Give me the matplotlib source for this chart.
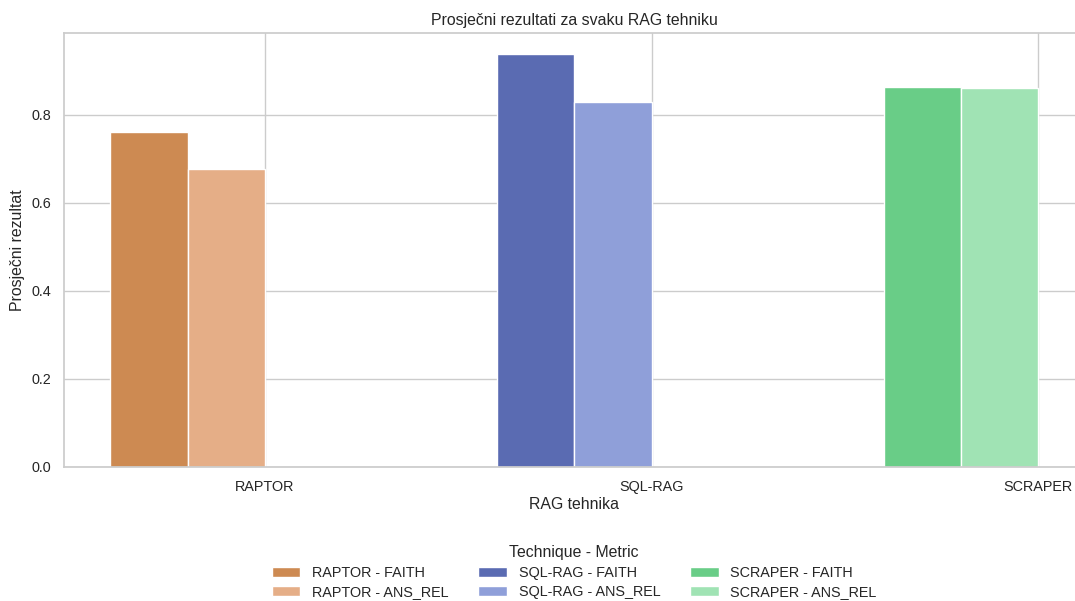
import numpy as np
import matplotlib.pyplot as plt
import seaborn as sns

sns.set_theme(style="whitegrid")
plt.rcParams['font.family'] = ['Liberation Sans', 'DejaVu Sans']

techniques = ["RAPTOR", "SQL-RAG", "SCRAPER"]
metrics = ["FAITH", "ANS_REL"]
faith = [0.761, 0.939, 0.864]
ans_rel = [0.677, 0.830, 0.861]
colors_faith = ["#cd8a52", "#5a6bb2", "#69cd87"]
colors_ans = ["#e5ae87", "#8f9fd9", "#a0e3b4"]

fig = plt.figure(figsize=(10.75, 6.01), dpi=100)
# the original image is cropped on the right, axes runs past the edge
ax = fig.add_axes([0.0595, 0.223, 0.949, 0.722])

x = np.arange(len(techniques))
w = 0.2
handles = []
for i, tech in enumerate(techniques):
    b1 = ax.bar(x[i] - 0.3, faith[i], w, color=colors_faith[i], edgecolor="white",
                linewidth=1, label=f"{tech} - FAITH")
    b2 = ax.bar(x[i] - 0.1, ans_rel[i], w, color=colors_ans[i], edgecolor="white",
                linewidth=1, label=f"{tech} - ANS_REL")
    handles += [b1, b2]

ax.set_xticks(x)
ax.set_xticklabels(techniques, fontsize=10.4)
ax.tick_params(axis='y', labelsize=10.4)
ax.set_xlim(-0.52, 2.119)
ax.set_ylim(0, 0.986)
ax.set_yticks([0.0, 0.2, 0.4, 0.6, 0.8])
ax.set_title("Prosječni rezultati za svaku RAG tehniku", fontsize=11.4)
ax.set_xlabel("RAG tehnika", fontsize=11.4, labelpad=2)
ax.set_ylabel("Prosječni rezultat", fontsize=11.4)
ax.set_axisbelow(True)

fig.legend(handles=handles, title="Technique - Metric", loc="upper center",
           bbox_to_anchor=(0.534, 0.115), ncol=3, frameon=False, fontsize=10.4,
           title_fontsize=11.4, columnspacing=2.05, labelspacing=0.4)

fig.savefig("out.png", dpi=100)
